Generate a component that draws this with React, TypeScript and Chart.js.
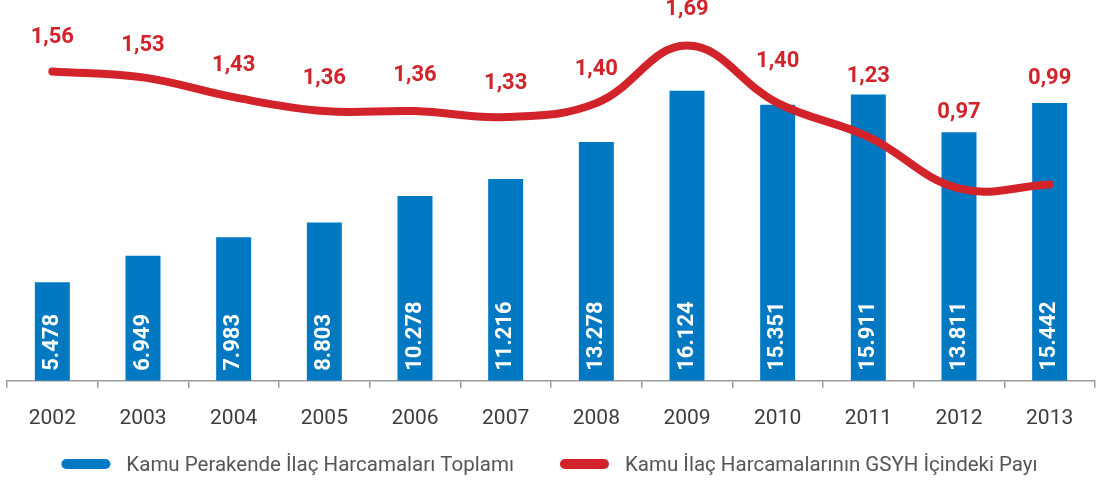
import React, { useEffect, useRef } from "react";
import { Chart, registerables } from "chart.js";

Chart.register(...registerables);

const years = ["2002", "2003", "2004", "2005", "2006", "2007", "2008", "2009", "2010", "2011", "2012", "2013"];
const spending = [5478, 6949, 7983, 8803, 10278, 11216, 13278, 16124, 15351, 15911, 13811, 15442];
const gdpShare = [1.56, 1.53, 1.43, 1.36, 1.36, 1.33, 1.4, 1.69, 1.4, 1.23, 0.97, 0.99];
const legendLabels = ["Kamu Perakende İlaç Harcamaları Toplamı", "Kamu İlaç Harcamalarının GSYH İçindeki Payı"];

// style: how far (px) each red label sits above its line point
const shareLabelLift = [34, 32, 32, 33, 36, 34, 34, 36, 42, 60, 76, 106];

const BLUE = "#0079c2";
const RED = "#d2232b";
const FONT = "Roboto, 'DejaVu Sans', sans-serif";

const fmtThousands = (n: number) => String(n).replace(/\B(?=(\d{3})+(?!\d))/g, ".");
const fmtDec = (v: number) => v.toFixed(2).replace(".", ",");

const labelPlugin = {
  id: "valueLabels",
  afterDatasetsDraw(chart: any) {
    const ctx = chart.ctx;
    const barMeta = chart.getDatasetMeta(1);
    ctx.save();
    ctx.fillStyle = "#ffffff";
    ctx.font = `bold 22px ${FONT}`;
    ctx.textAlign = "left";
    ctx.textBaseline = "middle";
    barMeta.data.forEach((el: any, i: number) => {
      ctx.save();
      ctx.translate(el.x, el.base - 10);
      ctx.rotate(-Math.PI / 2);
      ctx.fillText(fmtThousands(spending[i]), 0, 0);
      ctx.restore();
    });
    const lineMeta = chart.getDatasetMeta(0);
    ctx.fillStyle = RED;
    ctx.textAlign = "center";
    lineMeta.data.forEach((el: any, i: number) => {
      ctx.fillText(fmtDec(gdpShare[i]), el.x, el.y - shareLabelLift[i]);
    });
    ctx.restore();
  },
};

const legendPlugin = {
  id: "customLegend",
  afterDraw(chart: any) {
    const ctx = chart.ctx;
    const colors = [BLUE, RED];
    const pillW = 49;
    const pillH = 10;
    const gap = 16;
    const itemGap = 46;
    const cy = 464;
    ctx.save();
    ctx.font = `20.5px ${FONT}`;
    const widths = legendLabels.map((t) => ctx.measureText(t).width);
    const total = widths.reduce((s, w) => s + pillW + gap + w, 0) + itemGap * (legendLabels.length - 1);
    let x = chart.width / 2 - total / 2;
    legendLabels.forEach((t, i) => {
      ctx.fillStyle = colors[i];
      ctx.beginPath();
      ctx.roundRect(x, cy - pillH / 2, pillW, pillH, pillH / 2);
      ctx.fill();
      ctx.fillStyle = "#555555";
      ctx.textAlign = "left";
      ctx.textBaseline = "middle";
      ctx.fillText(t, x + pillW + gap, cy + 2);
      x += pillW + gap + widths[i] + itemGap;
    });
    ctx.restore();
  },
};

export default function App() {
  const ref = useRef<HTMLCanvasElement | null>(null);
  useEffect(() => {
    if (!ref.current) return;
    const chart = new Chart(ref.current, {
      type: "bar",
      data: {
        labels: years,
        datasets: [
          {
            type: "line",
            label: legendLabels[1],
            data: gdpShare,
            yAxisID: "y2",
            borderColor: RED,
            backgroundColor: RED,
            borderWidth: 8,
            borderCapStyle: "round",
            borderJoinStyle: "round",
            pointRadius: 0,
            tension: 0.4,
            order: 0,
          } as any,
          {
            type: "bar",
            label: legendLabels[0],
            data: spending,
            yAxisID: "y",
            backgroundColor: BLUE,
            categoryPercentage: 1,
            barPercentage: 0.386,
            order: 1,
          },
        ],
      },
      options: {
        responsive: false,
        animation: false,
        layout: { padding: { left: 7, right: 4, top: 0, bottom: 35 } },
        plugins: { legend: { display: false }, tooltip: { enabled: false } },
        scales: {
          x: {
            offset: true,
            grid: {
              display: true,
              drawOnChartArea: false,
              drawTicks: true,
              tickLength: 7,
              color: "#9a9a9a",
              lineWidth: 1.5,
              offset: true,
            },
            border: { display: true, color: "#9a9a9a", width: 1.5 },
            ticks: {
              color: "#3d3d3d",
              font: { family: FONT, size: 21 },
              padding: 18,
              maxRotation: 0,
            },
          },
          y: { display: false, min: 0, max: 21167 },
          y2: { display: false, min: 0, max: 1.92 },
        },
      },
      plugins: [labelPlugin, legendPlugin],
    });
    return () => chart.destroy();
  }, []);
  return (
    <div style={{ position: "fixed", left: 0, top: 0, width: 1099, height: 484, background: "#fff" }}>
      <canvas ref={ref} width={1099} height={484} />
    </div>
  );
}
